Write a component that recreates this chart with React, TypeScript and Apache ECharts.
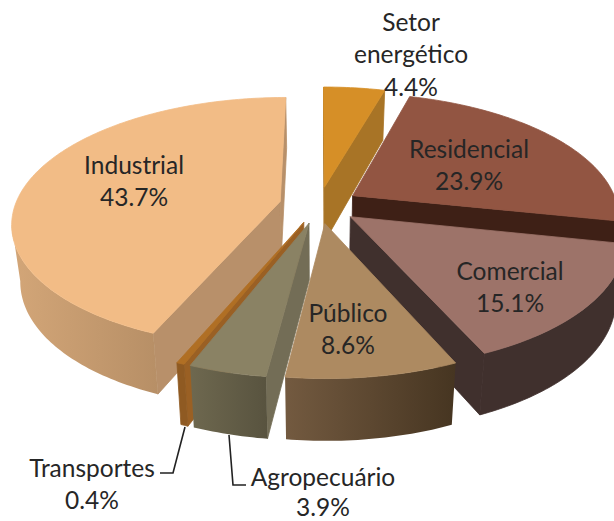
import React, { useEffect, useRef } from "react";
import * as echarts from "echarts";

const categories = ["Setor energético", "Residencial", "Comercial", "Público", "Agropecuário", "Transportes", "Industrial"];
const shares = [4.4, 23.9, 15.1, 8.6, 3.9, 0.4, 43.7];
const drawOrder = [0, 6, 1, 2, 5, 4, 3];

const topColors = ["#D68F27", "#925542", "#9D7369", "#AD8A61", "#8A8264", "#B06F24", "#F2BC86"];
const cutColors = ["#A87426", "#3E2016", "#40302D", "#735A40", "#736D56", "#9A6024", "#B8906A"];
const wallColors = [
  ["#A87426", "#A87426"],
  ["#3E2016", "#3E2016"],
  ["#40302D", "#40302D"],
  ["#463521", "#735A40"],
  ["#58533F", "#6E684F"],
  ["#8F5A22", "#8F5A22"],
  ["#B78F66", "#D3A678"],
];

const LINE_H = 32.5;
const labelRows = [
  { lines: ["Setor", "energético", "4.4%"], x: 411, y: 21, gap: LINE_H },
  { lines: ["Residencial", "23.9%"], x: 469, y: 148, gap: LINE_H },
  { lines: ["Comercial", "15.1%"], x: 510, y: 270, gap: LINE_H },
  { lines: ["Público", "8.6%"], x: 348, y: 312, gap: LINE_H },
  { lines: ["Agropecuário", "3.9%"], x: 323, y: 476, gap: 30 },
  { lines: ["Transportes", "0.4%"], x: 92, y: 467, gap: LINE_H },
  { lines: ["Industrial", "43.7%"], x: 134, y: 164, gap: LINE_H },
];
const leaderLines = [
  [[185, 427], [173, 473], [160, 473]],
  [[229, 435], [233, 485], [246, 485]],
];

const CX = 319, CY = 205, AX = 265, BY = 122.3, P = 0.166, EXPLODE = 0.15, SHRINK = 0.972;
const FONT = "Lato";
const FONT_SIZE = 24.5;

function project(X: number, Y: number) {
  const w = 1 - P * Y;
  const x = CX + (AX * X) / w;
  const y = CY + (BY * Y) / w;
  const d = 56 + 5.5 * Y;
  return { top: [x, y], bot: [CX + (x - CX) * SHRINK, y + d] };
}

const renderItem = (_params: any, api: any) => {
  const startPct = api.value(0);
  const pct = api.value(1);
  const idx = api.value(2);
  const t0 = (startPct / 100) * 2 * Math.PI;
  const t1 = ((startPct + pct) / 100) * 2 * Math.PI;
  const mid = (t0 + t1) / 2;
  const ox = EXPLODE * Math.sin(mid);
  const oy = -EXPLODE * Math.cos(mid);
  const apex = project(ox, oy);
  const n = Math.max(2, Math.ceil(((t1 - t0) * 180) / Math.PI));
  const arc: { top: number[]; bot: number[] }[] = [];
  for (let i = 0; i <= n; i++) {
    const t = t0 + ((t1 - t0) * i) / n;
    arc.push(project(ox + Math.sin(t), oy - Math.cos(t)));
  }
  const children: any[] = [];
  const poly = (pts: number[][], fill: any) => ({
    type: "polygon",
    shape: { points: pts },
    style: { fill, stroke: typeof fill === "string" ? fill : "none", lineWidth: 0.8 },
    silent: true,
  });
  const first = arc[0];
  const last = arc[arc.length - 1];
  if (first.top[0] < apex.top[0]) {
    children.push(poly([apex.top, first.top, first.bot, apex.bot], cutColors[idx]));
  }
  if (last.top[0] > apex.top[0]) {
    children.push(poly([apex.top, last.top, last.bot, apex.bot], cutColors[idx]));
  }
  let run: { top: number[]; bot: number[] }[] = [];
  const flush = () => {
    if (run.length > 1) {
      const pts = run.map((p) => p.top).concat(run.map((p) => p.bot).reverse());
      const [right, left] = wallColors[idx];
      children.push(
        poly(
          pts,
          right === left
            ? right
            : {
                type: "linear", x: 0, y: 0, x2: 1, y2: 0,
                colorStops: [
                  { offset: 0, color: left },
                  { offset: 1, color: right },
                ],
              }
        )
      );
    }
    run = [];
  };
  for (let i = 0; i < n; i++) {
    if (arc[i + 1].top[0] < arc[i].top[0]) {
      if (!run.length) run.push(arc[i]);
      run.push(arc[i + 1]);
    } else flush();
  }
  flush();
  children.push(poly([apex.top].concat(arc.map((p) => p.top)), topColors[idx]));
  return { type: "group", children };
};

export default function App() {
  const ref = useRef<HTMLDivElement>(null);
  useEffect(() => {
    const chart = echarts.init(ref.current!, undefined, { renderer: "svg" });
    const starts = shares.map((_, i) => shares.slice(0, i).reduce((a, b) => a + b, 0));
    const graphics: any[] = [];
    labelRows.forEach((row) => {
      row.lines.forEach((line, i) => {
        graphics.push({
          type: "text",
          x: row.x,
          y: row.y + i * row.gap,
          z: 10,
          style: { text: line, fill: "#262626", font: `${FONT_SIZE}px ${FONT}`, textAlign: "center", textVerticalAlign: "middle" },
        });
      });
    });
    leaderLines.forEach((pts) => {
      graphics.push({
        type: "polyline",
        z: 10,
        shape: { points: pts },
        style: { stroke: "#222222", lineWidth: 1.6, fill: "none" },
      });
    });
    chart.setOption({
      animation: false,
      backgroundColor: "#FFFFFF",
      graphic: graphics,
      series: [
        {
          type: "custom",
          coordinateSystem: "none",
          renderItem,
          silent: true,
          data: drawOrder.map((i) => ({ name: categories[i], value: [starts[i], shares[i], i] })),
        },
      ],
    });
    return () => chart.dispose();
  }, []);
  return <div ref={ref} style={{ position: "absolute", left: 0, top: 0, width: 614, height: 521 }} />;
}
